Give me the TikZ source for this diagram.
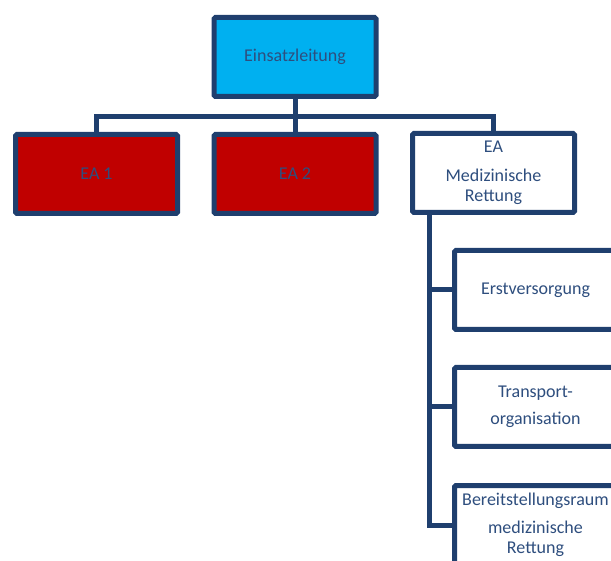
\documentclass[tikz,border=0pt]{standalone}
\usepackage{fontspec}
\setmainfont{Carlito}
\usepackage{tikz}
\definecolor{navy}{RGB}{31,63,110}
\definecolor{textnavy}{RGB}{46,78,126}
\definecolor{leadblue}{RGB}{0,176,240}
\definecolor{eared}{RGB}{192,0,0}
\tikzset{
  box/.style = {draw=navy, line width=5pt, rounded corners=1.5pt, minimum width=162pt, minimum height=79pt, align=center, text=textnavy, font=\fontsize{18}{20.5}\selectfont},
  lead/.style = {box, fill=leadblue},% Leitung
  ea/.style = {box, fill=eared},
  sub/.style = {box, fill=white},
  link/.style = {draw=navy, line width=5pt}
}
\begin{document}
\begin{tikzpicture}[x=1pt,y=-1pt]
\useasboundingbox (0,0) rectangle (611,561);
\clip (0,0) rectangle (611,561);
\node [lead] (lead) at (295,57) {Einsatzleitung};
\node [ea] (ea1) at (96.5,174) {EA 1};
\node [ea] (ea2) at (295,174) {EA 2};
\node [sub] (med) at (493.5,173) {EA\\[8pt]Medizinische\\Rettung};
\node [sub] (erst) at (535.5,290) {Erstversorgung};
\node [sub] (trans) at (535.5,407) {Transport-\\[7pt]organisation};
\node [sub] (bereit) at (535.5,525) {Bereitstellungsraum\\[7pt]medizinische\\Rettung};
% Verbindungen
\coordinate (bus) at (295,117);
\draw [link] (lead.south) -- (bus);
\draw [link] (ea1.north) |- (bus) -| (med.north);
\draw [link] (bus) -- (ea2.north);
\coordinate (trunk) at ([xshift=19pt]med.south west);
\draw [link] (trunk) |- (bereit.west);
\draw [link] (trunk |- erst.west) -- (erst.west);
\draw [link] (trunk |- trans.west) -- (trans.west);
\end{tikzpicture}
\end{document}
